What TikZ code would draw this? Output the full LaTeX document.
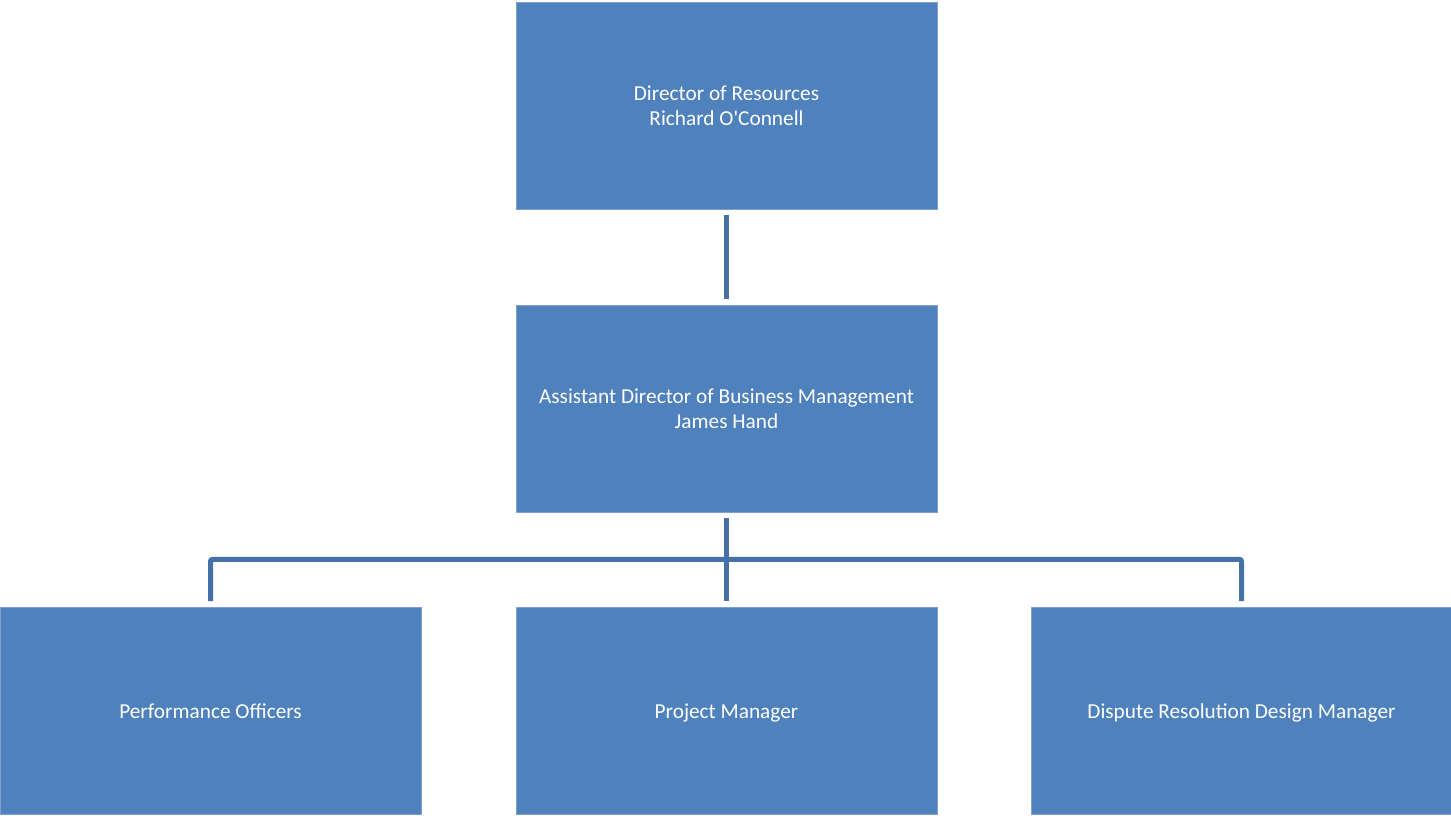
\documentclass[tikz,border=0pt]{standalone}
\usepackage{fontspec}
\setmainfont{Carlito}
\usepackage{xcolor}
\definecolor{hopxanh}{HTML}{4F81BD}
\definecolor{vienxanh}{HTML}{7F9FCF}
\definecolor{noixanh}{HTML}{4570A8}
\def\maunen{hopxanh}
\def\maunoi{noixanh}
\usetikzlibrary{calc,positioning}

\begin{document}
\begin{tikzpicture}[x=1pt,y=1pt,declare function={%
			w=421;
			h=207;
		}
		]%
		\tikzset{
			hop/.style={fill=\maunen,draw=vienxanh,line width=0.8pt,minimum width=w,minimum height=h,
				inner sep=0pt,align=center,text=white,font=\fontsize{21.3}{25}\selectfont},
			hopduoi/.style={hop,text depth=0pt},
			noi/.style={draw=\maunoi,line width=5pt}
		}
		\useasboundingbox (0,0) rectangle (1451,816);
		%%%Hộp trên cùng
		\path (726.5,710.5) node[hop] (dor) {Director of Resources\\Richard O\textquotesingle Connell};
		%%%Hộp giữa
		\path (726.5,407.5) node[hop] (adbm) {Assistant Director of Business Management\\James Hand};
		%%%Ba hộp dưới
		\path (210.5,105) node[hopduoi] (po) {\vphantom{f}Performance Officers};
		\path (726.5,105) node[hopduoi] (pm) {\vphantom{f}Project Manager};
		\path (1241.5,105) node[hopduoi] (drdm) {\vphantom{f}Dispute Resolution Design Manager};
		%%%Đường nối
		\draw[noi,shorten <=6pt,shorten >=6pt] (dor.south) -- (adbm.north);
		\coordinate (bus) at ($(adbm.south)+(0,-47)$);
		\draw[noi,shorten <=6pt] (adbm.south) -- (bus);
		\draw[noi,shorten <=6pt,shorten >=6pt,rounded corners=2pt] (po.north) |- (bus) -| (drdm.north);
		\draw[noi,shorten >=6pt] (bus) -- (pm.north);
	\end{tikzpicture}
\end{document}
